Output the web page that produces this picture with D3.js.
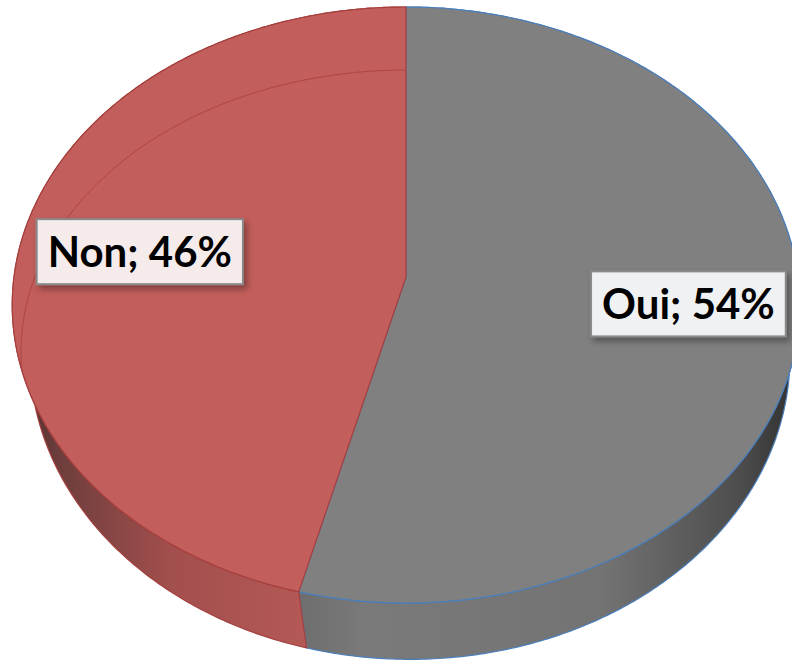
<!DOCTYPE html>
<html>
<head>
<meta charset="utf-8"/>
<script src="https://d3js.org/d3.v7.min.js"></script>
<title>Oui / Non</title>
<style>
  body { margin: 0; background: #fff; }
  svg { display: block; }
  .lbl { font-family: Lato, "Open Sans", sans-serif; font-weight: bold; font-size: 42px; fill: #000; }
</style>
</head>
<body>
<div id="chart"></div>
<script>
// data
var categories = ["Oui", "Non"];
var values = [54, 46];
var topColors = ["#808080", "#c25e5b"];
var edgeColors = ["#4a7ebb", "#a53f3d"];
var boxColors = ["#f0f1f3", "#f5ebeb"];

var width = 792, height = 661;

// projection of the tilted disc (a little perspective)
var cx = 406, cy = 277, f = 392, fc = 295.4, s = 0.094, thick = 51;
var vx = 520, kv = 0.035; // vertical edges lean a bit toward vx
function proj(a, r, down) {
  var X = r * Math.sin(a), Y = r * Math.cos(a);
  var d = 1 + s * Y;
  var x = cx + f * X / d, y = cy - fc * Y / d;
  if (down) { x += kv * (vx - x); y += thick / d; }
  return [x, y];
}
function arcPts(a0, a1, down) {
  var n = Math.max(2, Math.ceil(Math.abs(a1 - a0) / 0.01));
  return d3.range(n + 1).map(function(i) { return proj(a0 + (a1 - a0) * i / n, 1, down); });
}
var line = d3.line();

var svg = d3.select("#chart").append("svg")
    .attr("width", width)
    .attr("height", height);

var defs = svg.append("defs");
var sideStops = [
  [["0", "#3a3a3a"], ["0.45", "#7a7a7a"], ["0.75", "#737373"], ["0.93", "#4c4c4c"], ["1", "#2e2e2e"]],
  [["0", "#4a2c2c"], ["0.06", "#6e3e3d"], ["0.2", "#a24f4d"], ["0.4", "#b75a57"], ["1", "#b75a57"]]
];
sideStops.forEach(function(st, i) {
  var g = defs.append("linearGradient")
      .attr("id", "side" + i)
      .attr("gradientUnits", "userSpaceOnUse")
      .attr("x1", cx - f).attr("x2", cx + f).attr("y1", 0).attr("y2", 0);
  st.forEach(function(p) { g.append("stop").attr("offset", p[0]).attr("stop-color", p[1]); });
});
defs.append("filter").attr("id", "shadow")
    .attr("x", "-20%").attr("y", "-20%").attr("width", "140%").attr("height", "150%")
  .append("feDropShadow")
    .attr("dx", 3).attr("dy", 4).attr("stdDeviation", 3)
    .attr("flood-color", "#000").attr("flood-opacity", 0.35);

var pie = d3.pie().sort(null).value(function(d) { return d; });
var arcs = pie(values);

// sides
svg.selectAll(".side")
  .data(arcs)
  .enter().append("path")
    .attr("class", "side")
    .attr("d", function(d) {
      var pts = arcPts(d.startAngle, d.endAngle, false)
        .concat(arcPts(d.endAngle, d.startAngle, true));
      return line(pts) + "Z";
    })
    .attr("fill", function(d, i) { return "url(#side" + i + ")"; })
    .attr("stroke", function(d, i) { return edgeColors[i]; })
    .attr("stroke-width", 1.2)
    .attr("stroke-linejoin", "round");

// top faces
svg.selectAll(".top")
  .data(arcs)
  .enter().append("path")
    .attr("class", "top")
    .attr("d", function(d) {
      var pts = [proj(0, 0)].concat(arcPts(d.startAngle, d.endAngle, false));
      return line(pts) + "Z";
    })
    .attr("fill", function(d, i) { return topColors[i]; })
    .attr("stroke", function(d, i) { return edgeColors[i]; })
    .attr("stroke-width", 1.2)
    .attr("stroke-linejoin", "round");

// faint inner rim seen through the red slice
defs.append("clipPath").attr("id", "clipNon")
  .append("path")
    .attr("d", line([proj(0, 0)].concat(arcPts(arcs[1].startAngle, arcs[1].endAngle, false))) + "Z");
var rim = d3.range(0, 101).map(function(i) {
  var a = Math.PI * 2 - i / 100 * Math.PI * 0.62;
  return [cx + 385 * Math.sin(a), 352 - 282 * Math.cos(a)];
});
svg.append("path")
    .attr("d", line(rim))
    .attr("clip-path", "url(#clipNon)")
    .attr("fill", "none")
    .attr("stroke", "#ad4644")
    .attr("stroke-width", 1);

// labels
var labelR = [0.72, 0.69];
var lab = svg.selectAll(".lab")
  .data(arcs)
  .enter().append("g")
    .attr("class", "lab")
    .attr("transform", function(d, i) {
      var p = proj((d.startAngle + d.endAngle) / 2, labelR[i]);
      return "translate(" + p[0] + "," + p[1] + ")";
    });
var rects = lab.append("rect")
    .attr("fill", function(d, i) { return boxColors[i]; })
    .attr("stroke", "#8a8a8a")
    .attr("stroke-width", 2)
    .attr("filter", "url(#shadow)");
var texts = lab.append("text")
    .attr("class", "lbl")
    .attr("text-anchor", "middle")
    .attr("dy", "0.36em")
    .text(function(d, i) { return categories[i] + "; " + values[i] + "%"; });
texts.each(function(d, i) {
  var w = this.getBBox().width + 22, h = 65;
  d3.select(rects.nodes()[i])
    .attr("x", -w / 2).attr("y", -h / 2)
    .attr("width", w).attr("height", h);
});
</script>
</body>
</html>
